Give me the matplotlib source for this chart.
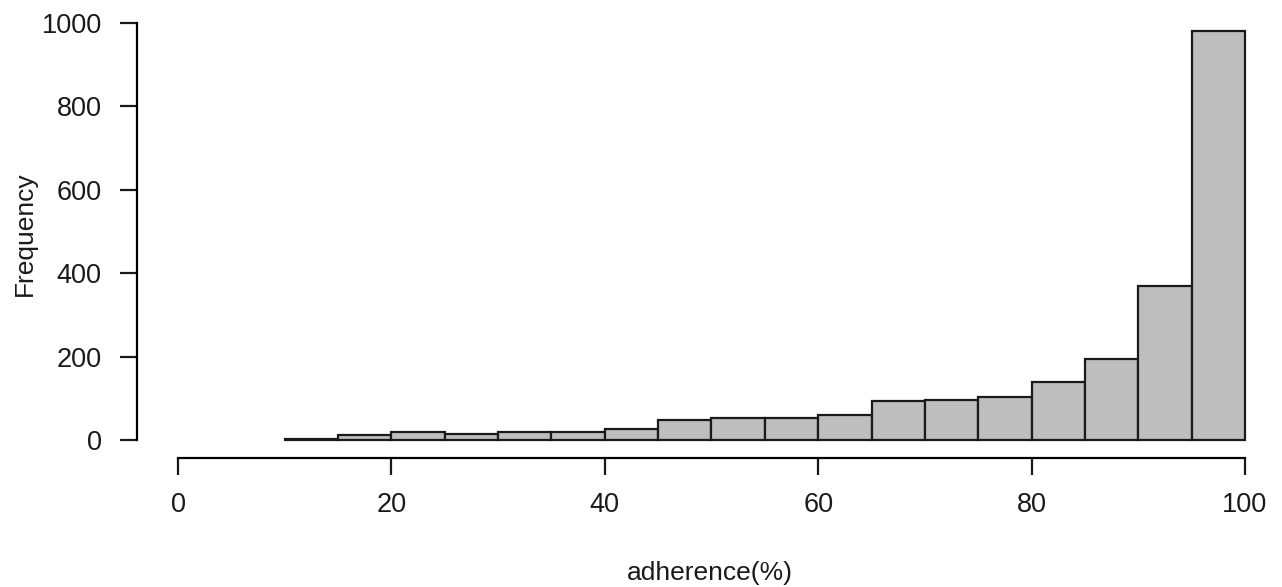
import numpy as np
import matplotlib.pyplot as plt

plt.rcParams['font.family'] = ['Liberation Sans', 'DejaVu Sans']

# histogram bins (adherence %) and counts
bin_edges = [10, 15, 20, 25, 30, 35, 40, 45, 50, 55, 60, 65, 70, 75, 80, 85, 90, 95, 100]
counts = [3, 11, 19, 15, 19, 19, 27, 48, 52, 52, 60, 93, 97, 104, 138, 194, 369, 980]
x_ticks = [0, 20, 40, 60, 80, 100]
y_ticks = [0, 200, 400, 600, 800, 1000]

W, H = 1282, 587
fig = plt.figure(figsize=(W / 100, H / 100), dpi=100)

# pixel geometry: x 0 -> 178px, 100 -> 1245px ; y 0 -> 440px, 1000 -> 22.7px
xpx = (1245 - 178) / 100.0
ypx = (440 - 22.7) / 1000.0
left_px, right_px = 136.5, 1282.0
top_px, bot_px = 6.0, 457.5
ax = fig.add_axes([left_px / W, 1 - bot_px / H, (right_px - left_px) / W, (bot_px - top_px) / H])
ax.set_xlim((left_px - 178) / xpx, (right_px - 178) / xpx)
ax.set_ylim(-(bot_px - 440) / ypx, (440 - top_px) / ypx)

lefts = np.array(bin_edges[:-1])
widths = np.diff(bin_edges)
ax.bar(lefts, counts, width=widths, align='edge', color='#bebebe',
       edgecolor='#1a1a1a', linewidth=1.6)

for s in ['top', 'right']:
    ax.spines[s].set_visible(False)
ax.spines['left'].set_bounds(0, 1000)
ax.spines['bottom'].set_bounds(0, 100)
ax.spines['left'].set_linewidth(1.6)
ax.spines['bottom'].set_linewidth(1.6)

ax.set_xticks(x_ticks)
ax.set_yticks(y_ticks)
ax.tick_params(axis='both', length=12, width=1.6, labelsize=19.5, colors='#1a1a1a')
ax.tick_params(axis='y', pad=13)
ax.tick_params(axis='x', pad=13)

fig.text(25 / W, 1 - 234 / H, 'Frequency', rotation=90, ha='center', va='center', fontsize=19, color='#1a1a1a')
fig.text(710 / W, 1 - 573 / H, 'adherence(%)', ha='center', va='center', fontsize=19, color='#1a1a1a')

fig.savefig('out.png', dpi=100)
